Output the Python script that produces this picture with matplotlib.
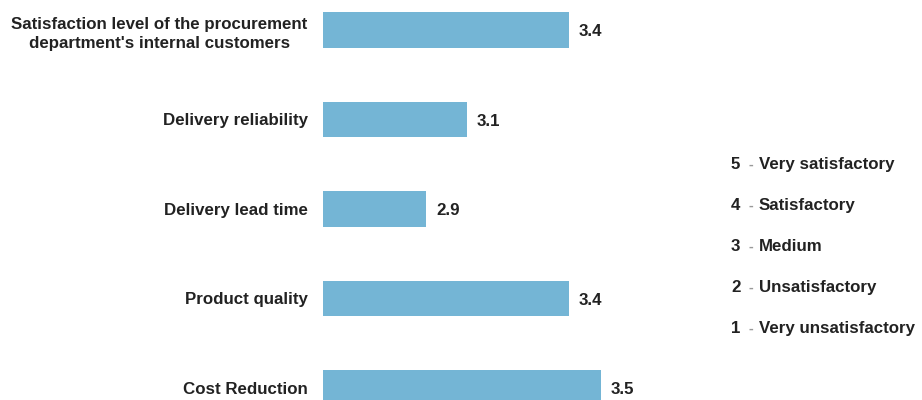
import matplotlib.pyplot as plt

categories = ["Satisfaction level of the procurement\ndepartment's internal customers",
              "Delivery reliability", "Delivery lead time",
              "Product quality", "Cost Reduction"]
scores = [3.39, 3.04, 2.9, 3.39, 3.5]
score_labels = ["3.4", "3.1", "2.9", "3.4", "3.5"]
scale_levels = ["5", "4", "3", "2", "1"]
scale_names = ["Very satisfactory", "Satisfactory", "Medium",
               "Unsatisfactory", "Very unsatisfactory"]

plt.rcParams['font.family'] = ['Liberation Sans', 'DejaVu Sans']
plt.rcParams['font.weight'] = 'bold'

W, H = 922, 400
fs = 12.2
fig = plt.figure(figsize=(W / 100, H / 100), dpi=100)

# axes from bar start (px 323) to px 700, full height
ax = fig.add_axes([323 / W, 0, (700 - 323) / W, 1])
x0 = 2.546
pos = list(range(len(categories)))
ax.barh(pos, [s - x0 for s in scores], left=x0, height=0.40, color='#74b5d5')
ax.set_xlim(x0, 3.839)
ax.set_ylim(370 / 89.5, -30 / 89.5)

for p, s, lab in zip(pos, scores, score_labels):
    ax.text(s + 0.034, p + 0.02, lab, va='center', ha='left', fontsize=fs,
            fontweight='bold', color='#222222')

ax.set_yticks(pos)
ax.set_yticklabels(categories, fontsize=fs, fontweight='bold', color='#222222',
                   multialignment='center', linespacing=1.35)
ax.tick_params(axis='y', length=0, pad=11)
ax.set_xticks([])
for sp in ax.spines.values():
    sp.set_visible(False)

# scale legend
for i, (lv, nm) in enumerate(zip(scale_levels, scale_names)):
    y = 1 - (163 + 41 * i) / H
    fig.text(731 / W, y, lv, fontsize=fs, fontweight='bold', color='#222222',
             ha='left', va='center_baseline')
    fig.text(748 / W, y, "-", fontsize=fs - 2, color='#999999', ha='left',
             va='center_baseline')
    fig.text(759 / W, y, nm, fontsize=fs, fontweight='bold', color='#222222',
             ha='left', va='center_baseline')

fig.savefig('out.png', dpi=100)
